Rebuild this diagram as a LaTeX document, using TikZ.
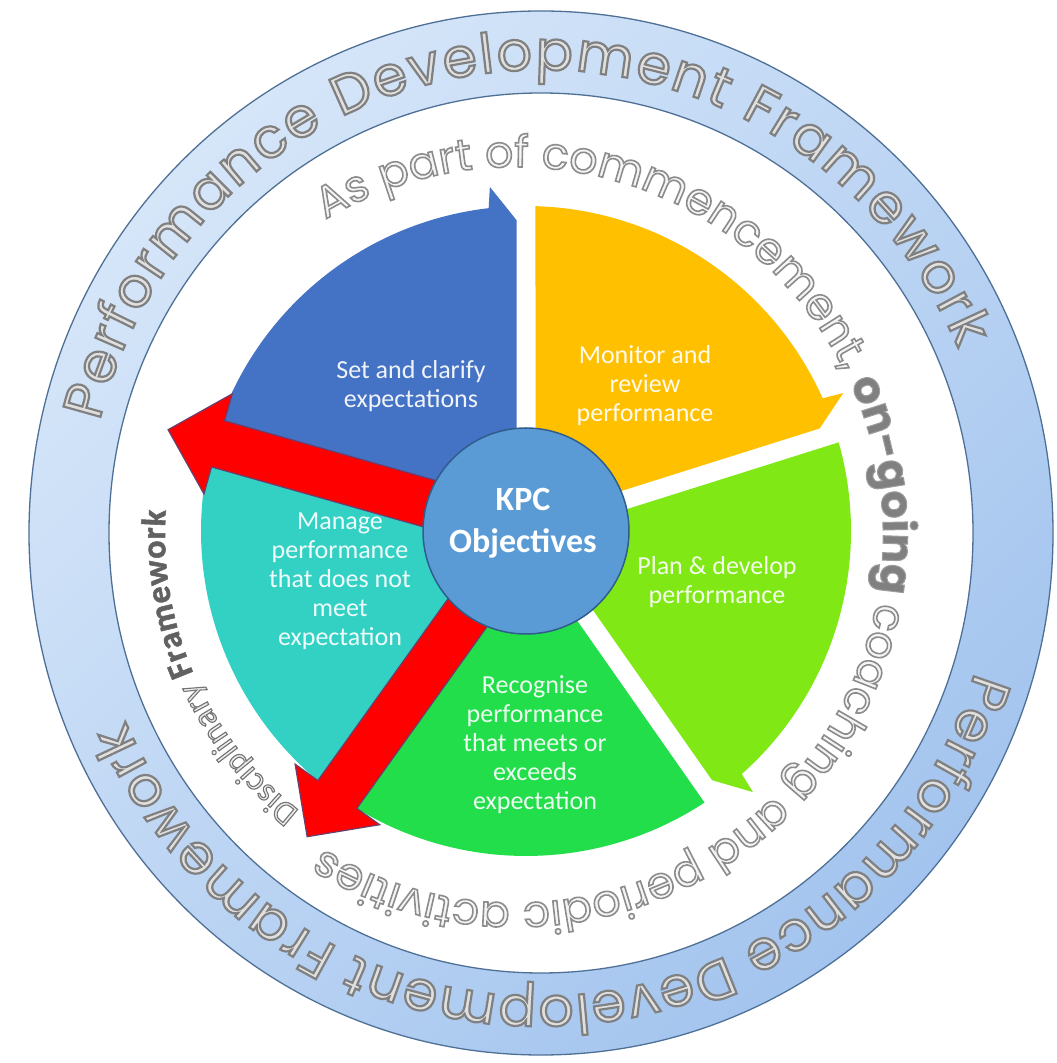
\documentclass[tikz,border=0pt]{standalone}
\usepackage{fontspec}
\setmainfont{Carlito}
\newfontfamily\ringfont{Poppins}
\usetikzlibrary{calc,decorations.text}
\makeatletter
\newcommand\trmode[1]{\pgfsys@invoke{#1}}
\makeatother
\definecolor{segblue}{HTML}{4472C4}
\definecolor{segyellow}{HTML}{FFC000}
\definecolor{seglime}{HTML}{7FE815}
\definecolor{seggreen}{HTML}{22DE4B}
\definecolor{segteal}{HTML}{33D1C4}
\definecolor{kpcfill}{HTML}{5B9BD5}
\definecolor{kpcline}{HTML}{2F5D8C}
\definecolor{ringA}{HTML}{D6E6F9}
\definecolor{ringB}{HTML}{A3C4EE}
\definecolor{ringline}{HTML}{4F7096}
\definecolor{redline}{HTML}{6A3F6E}
\newcommand\ringsty{\ringfont\fontsize{55}{55}\selectfont\color[gray]{0.88}\trmode{2 Tr 2.2 w 0.5 0.5 0.5 RG}}
\newcommand\innersty{\ringfont\fontsize{44}{44}\selectfont\color[gray]{0.96}\trmode{2 Tr 1.6 w 0.55 0.55 0.55 RG}}
\newcommand\innerbold{\ringfont\bfseries\fontsize{44}{44}\selectfont\color[gray]{0.5}\trmode{2 Tr 1.0 w 0.62 0.62 0.62 RG}}
\newcommand\discsty{\fontsize{34}{34}\selectfont\color[gray]{0.93}\trmode{2 Tr 1.1 w 0.45 0.45 0.45 RG}}
\newcommand\discbold{\bfseries\fontsize{34}{34}\selectfont\color[gray]{0.38}\trmode{2 Tr 0.6 w 0.4 0.4 0.4 RG}}
\def\segGap{9.5}
\def\segRad{325}
\newcommand\segshape[4]{%
  \pgfmathsetmacro\segSa{#2-asin(\segGap/\segRad)}%
  \ifnum#4=1
    \pgfmathsetmacro\segEa{#3+6.6}%
    \pgfmathsetmacro\segBa{#3+6}%
    \pgfmathsetmacro\segTa{#3+asin(\segGap/311)}%
    \fill[#1] ($(P)+(#2-90:\segGap)$) -- ($(P)+(\segSa:\segRad)$) arc[start angle=\segSa, end angle=\segEa, radius=\segRad] -- ($(P)+(\segBa:346)$) -- ($(P)+(\segTa:311)$) -- ($(P)+(#3+90:\segGap)$) -- cycle;
  \else
    \pgfmathsetmacro\segEa{#3+asin(\segGap/\segRad)}%
    \fill[#1] ($(P)+(#2-90:\segGap)$) -- ($(P)+(\segSa:\segRad)$) arc[start angle=\segSa, end angle=\segEa, radius=\segRad] -- ($(P)+(#3+90:\segGap)$) -- cycle;
  \fi
}
\newcommand\redarrow[2]{%
  \begin{scope}[shift={(P)}, rotate=#1]
    \draw[redarr] (0,24) -- ({#2-52},24) -- ({#2-52},52) -- (#2,0) -- ({#2-52},-52) -- ({#2-52},-24) -- (0,-24) -- cycle;
  \end{scope}}
\tikzset{
  seglabel/.style={align=center, text=white, text opacity=0.92, font=\fontsize{26}{29}\selectfont},
  redarr/.style={fill=red, draw=redline, line width=1.2pt, line join=miter},
  ringedge/.style={draw=ringline, line width=1.3pt}
}
\begin{document}
\begin{tikzpicture}[x=1pt,y=1pt]
\useasboundingbox (0,0) rectangle (1057,1063);
\fill[white] (0,0) rectangle (1057,1063);
\coordinate (C) at (541,530);
\coordinate (P) at (526,532);
\coordinate (Ci) at (515,528);
% ring
\shade[top color=ringA, bottom color=ringB, shading angle=45] (C) ellipse[x radius=512, y radius=522];
\fill[white] (C) ellipse[x radius=432, y radius=440];
\draw[ringedge] (C) ellipse[x radius=512, y radius=522];
\draw[ringedge] (C) ellipse[x radius=432, y radius=440];
% segments
\segshape{segblue}{164.2}{90}{1}
\segshape{segyellow}{90}{17.5}{1}
\segshape{seglime}{17.5}{-55}{1}
\segshape{seggreen}{-55}{-125.6}{0}
\segshape{segteal}{234.4}{164.2}{0}
% red arrows
\redarrow{164.2}{372}
\redarrow{234.4}{376}
% centre
\node[circle, fill=kpcfill, draw=kpcline, line width=1.5pt, minimum size=206pt, inner sep=0pt] (kpc) at (P) {};
\node[font=\bfseries\fontsize{34}{42}\selectfont, text=white, align=center] (kpct) at (523,539.5) {KPC\\Objectives};
% labels
\node[seglabel] (lblue) at (411,677) {Set and clarify\\expectations};
\node[seglabel] (lyellow) at (645,677) {Monitor and\\review\\performance};
\node[seglabel] (llime) at (717,481) {Plan \& develop\\performance};
\node[seglabel] (lgreen) at (535,318) {Recognise\\performance\\that meets or\\exceeds\\expectation};
\node[seglabel] (lteal) at (340,482) {Manage\\performance\\that does not\\meet\\expectation};
% ring texts
\path[decorate, decoration={text along path, text align=fit to path, text={|\ringsty|Performance Development Framework}}]
  ($(C)+(166:455 and 463)$) arc[start angle=166, end angle=23.5, x radius=455, y radius=463];
\path[decorate, decoration={text along path, text align=fit to path, text={|\ringsty|Performance Development Framework}}]
  ($(C)+(-17.5:455 and 463)$) arc[start angle=-17.5, end angle=-156, x radius=455, y radius=463];
% inner text
\path[decorate, decoration={text along path, text align=fit to path, text={|\innersty|As part of commencement, |\innerbold|on-going |\innersty|coaching and periodic activities}}]
  ($(Ci)+(121:368)$) arc[start angle=121, end angle=-121.5, radius=368];
\path[decorate, decoration={text along path, text align=fit to path, text={|\discsty|Disciplinary |\discbold|Framework}}]
  ($(Ci)+(232:350)$) arc[start angle=232, end angle=176, radius=350];
\end{tikzpicture}
\end{document}
